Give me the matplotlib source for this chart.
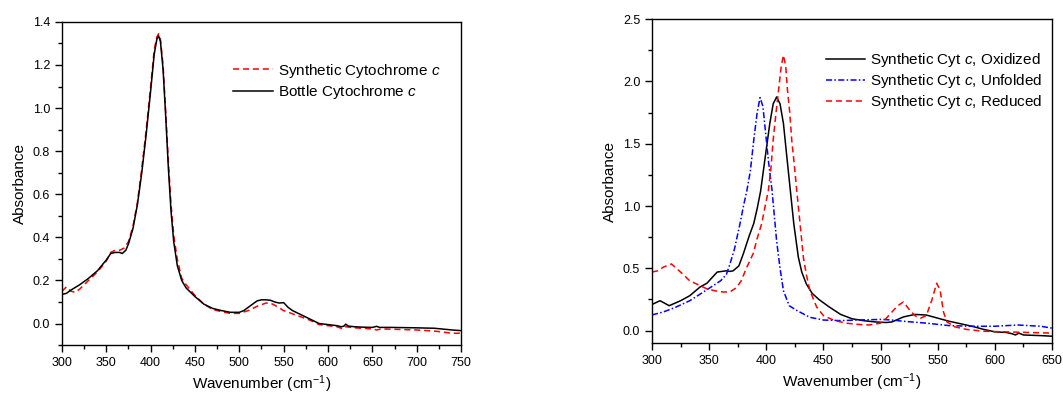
import matplotlib.pyplot as plt
from matplotlib.ticker import MultipleLocator

plt.rcParams['font.family'] = 'Liberation Sans'
plt.rcParams['mathtext.fontset'] = 'custom'
plt.rcParams['mathtext.rm'] = 'Liberation Sans'
plt.rcParams['mathtext.it'] = 'Liberation Sans:italic'

# left panel: synthetic vs bottle cytochrome c
bottle_x = [300, 305, 310, 320, 330, 340, 350, 355, 360, 365, 368, 372, 375, 380, 385, 390, 395, 400,
            404, 407, 409, 411, 414, 417, 420, 423, 426, 430, 435, 440, 450, 460, 470, 480, 490, 500,
            505, 510, 515, 520, 525, 530, 535, 540, 545, 550, 555, 560, 570, 580, 590, 600, 610, 615,
            618, 620, 623, 630, 640, 650, 655, 658, 670, 700, 720, 740, 750]
bottle_y = [0.135, 0.14, 0.155, 0.18, 0.21, 0.245, 0.295, 0.325, 0.33, 0.33, 0.325, 0.34, 0.37, 0.44,
            0.55, 0.70, 0.88, 1.08, 1.25, 1.32, 1.335, 1.31, 1.18, 0.96, 0.72, 0.52, 0.38, 0.27, 0.20,
            0.165, 0.125, 0.09, 0.07, 0.06, 0.052, 0.052, 0.06, 0.075, 0.09, 0.105, 0.11, 0.11, 0.108,
            0.10, 0.095, 0.097, 0.075, 0.06, 0.04, 0.02, 0.0, -0.005, -0.01, -0.015, -0.012, -0.003,
            -0.012, -0.015, -0.017, -0.018, -0.013, -0.018, -0.018, -0.02, -0.022, -0.03, -0.033]

synth_x = [300, 305, 310, 315, 320, 330, 340, 350, 355, 360, 365, 370, 375, 380, 385, 390, 395, 400,
           404, 407, 409, 411, 414, 417, 420, 423, 426, 430, 435, 440, 450, 460, 470, 480, 490, 500,
           510, 520, 530, 535, 540, 550, 560, 570, 580, 590, 600, 610, 617, 620, 630, 650, 655, 660,
           700, 720, 740, 750]
synth_y = [0.15, 0.17, 0.15, 0.145, 0.16, 0.20, 0.24, 0.29, 0.33, 0.34, 0.34, 0.35, 0.38, 0.45, 0.56,
           0.72, 0.90, 1.10, 1.27, 1.33, 1.345, 1.32, 1.20, 0.98, 0.75, 0.55, 0.41, 0.30, 0.21, 0.18,
           0.13, 0.09, 0.065, 0.055, 0.047, 0.047, 0.06, 0.08, 0.095, 0.095, 0.085, 0.06, 0.045, 0.03,
           0.015, -0.005, -0.01, -0.015, -0.025, -0.015, -0.02, -0.025, -0.03, -0.025, -0.03, -0.035,
           -0.045, -0.045]

# right panel: oxidized / unfolded / reduced
ox_x = [300, 307, 315, 325, 333, 342, 348, 357, 365, 368, 371, 376, 380, 385, 389, 392, 395, 399, 403,
        406, 409, 412, 415, 418, 421, 424, 428, 431, 435, 440, 446, 455, 465, 475, 485, 495, 505, 510,
        515, 520, 530, 540, 550, 560, 570, 580, 590, 600, 610, 615, 618, 621, 625, 640, 650]
ox_y = [0.21, 0.24, 0.20, 0.24, 0.28, 0.35, 0.38, 0.47, 0.48, 0.475, 0.48, 0.52, 0.62, 0.76, 0.86,
        0.98, 1.12, 1.39, 1.66, 1.82, 1.875, 1.82, 1.66, 1.39, 1.125, 0.86, 0.59, 0.47, 0.375, 0.30,
        0.25, 0.19, 0.13, 0.095, 0.08, 0.07, 0.065, 0.07, 0.09, 0.11, 0.13, 0.125, 0.10, 0.075, 0.055,
        0.035, 0.01, -0.01, -0.015, -0.025, -0.035, -0.02, -0.035, -0.04, -0.045]

unf_x = [300, 310, 320, 333, 345, 355, 360, 365, 368, 372, 377, 380, 383, 386, 389, 392, 394.5, 397,
         400, 402, 405, 409, 412, 415, 420, 427, 438, 450, 465, 480, 500, 510, 520, 540, 560, 580, 600,
         620, 640, 650]
unf_y = [0.126, 0.15, 0.185, 0.24, 0.31, 0.37, 0.40, 0.45, 0.53, 0.65, 0.86, 1.0, 1.125, 1.28, 1.53,
         1.75, 1.87, 1.80, 1.53, 1.35, 1.125, 0.72, 0.50, 0.32, 0.20, 0.16, 0.107, 0.085, 0.08, 0.085,
         0.09, 0.085, 0.075, 0.06, 0.04, 0.035, 0.035, 0.045, 0.035, 0.02]

red_x = [300, 305, 310, 317, 325, 333, 340, 348, 355, 362, 368, 374, 378, 383, 388.6, 392, 396, 399,
         401.8, 404, 406, 408.5, 410.7, 413, 415, 417, 418.5, 420.5, 422.2, 424.5, 426.6, 429.5, 432.4,
         435, 438.2, 444, 450, 460, 470, 480, 490, 500, 505, 510, 515, 520, 525, 530, 535, 540, 545,
         549, 552, 555, 558, 565, 575, 590, 610, 630, 650]
red_y = [0.47, 0.48, 0.51, 0.535, 0.47, 0.40, 0.37, 0.335, 0.32, 0.31, 0.31, 0.345, 0.40, 0.51, 0.62,
         0.74, 0.86, 1.0, 1.125, 1.30, 1.53, 1.75, 1.93, 2.12, 2.21, 2.12, 1.93, 1.75, 1.53, 1.33, 1.125,
         0.86, 0.59, 0.45, 0.32, 0.19, 0.12, 0.08, 0.06, 0.05, 0.045, 0.06, 0.10, 0.15, 0.20, 0.23,
         0.17, 0.12, 0.10, 0.12, 0.25, 0.38, 0.33, 0.15, 0.07, 0.03, 0.01, -0.005, -0.01, -0.015, -0.02]

fig = plt.figure(figsize=(10.63, 3.98), dpi=100)
ax1 = fig.add_axes([0.0583, 0.133, 0.3754, 0.812])
ax2 = fig.add_axes([0.6134, 0.138, 0.3763, 0.814])

ax1.plot(synth_x, synth_y, color='red', lw=1.1, dashes=(4, 2.5), label='Synthetic Cytochrome $\\it{c}$')
ax1.plot(bottle_x, bottle_y, color='black', lw=1.1, label='Bottle Cytochrome $\\it{c}$')
ax1.set_xlim(300, 750)
ax1.set_ylim(-0.1, 1.4)
ax1.xaxis.set_major_locator(MultipleLocator(50))
ax1.xaxis.set_minor_locator(MultipleLocator(25))
ax1.yaxis.set_major_locator(MultipleLocator(0.2))
ax1.yaxis.set_minor_locator(MultipleLocator(0.1))
ax1.yaxis.set_major_formatter(plt.FormatStrFormatter('%.1f'))
ax1.legend(loc='upper left', bbox_to_anchor=(0.41, 0.9), frameon=False, fontsize=11,
           handlelength=2.6, handletextpad=0.3, labelspacing=0.2, borderpad=0)

ax2.plot(ox_x, ox_y, color='black', lw=1.1, label='Synthetic Cyt $\\it{c}$, Oxidized')
ax2.plot(unf_x, unf_y, color='blue', lw=1.1, dashes=(4, 1.5, 1, 1.5), label='Synthetic Cyt $\\it{c}$, Unfolded')
ax2.plot(red_x, red_y, color='red', lw=1.1, dashes=(4, 2.5), label='Synthetic Cyt $\\it{c}$, Reduced')
ax2.set_xlim(300, 650)
ax2.set_ylim(-0.1, 2.5)
ax2.xaxis.set_major_locator(MultipleLocator(50))
ax2.xaxis.set_minor_locator(MultipleLocator(25))
ax2.yaxis.set_major_locator(MultipleLocator(0.5))
ax2.yaxis.set_minor_locator(MultipleLocator(0.25))
ax2.yaxis.set_major_formatter(plt.FormatStrFormatter('%.1f'))
ax2.legend(loc='upper left', bbox_to_anchor=(0.415, 0.925), frameon=False, fontsize=11,
           handlelength=2.6, handletextpad=0.3, labelspacing=0.2, borderpad=0)

for ax in (ax1, ax2):
    ax.set_xlabel('Wavenumber (cm$^{-1}$)', fontsize=11, labelpad=3)
    ax.set_ylabel('Absorbance', fontsize=11, labelpad=4)
    ax.tick_params(which='both', direction='out', top=False, right=False, labelsize=9, width=1.0)
    ax.tick_params(which='major', length=5)
    ax.tick_params(which='minor', length=3)
    for s in ax.spines.values():
        s.set_linewidth(1.0)

fig.savefig('out.png', dpi=100)
